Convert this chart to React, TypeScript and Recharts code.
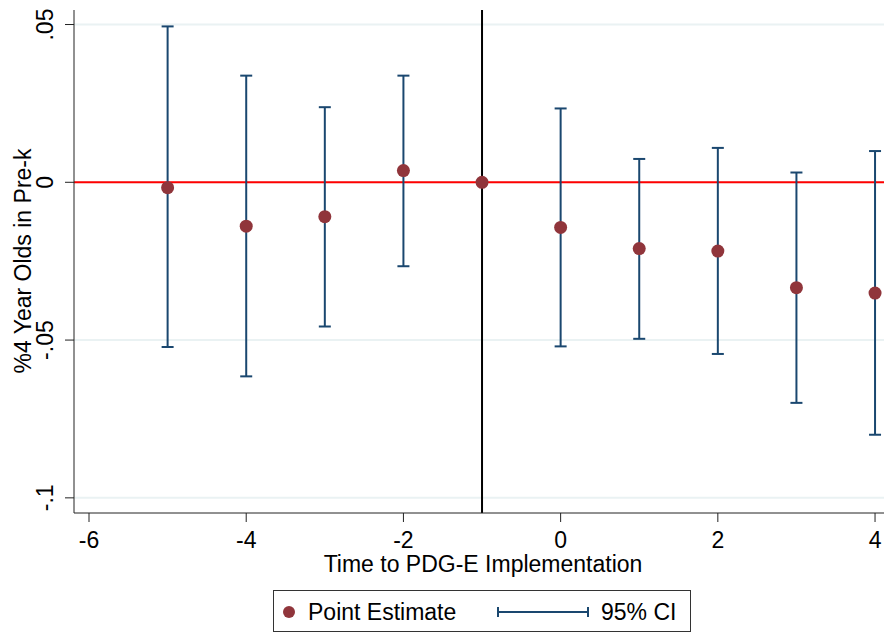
import React from "react";
import { ComposedChart, Scatter, ErrorBar, XAxis, YAxis, CartesianGrid, ReferenceLine } from "recharts";

const periods = [-5, -4, -3, -2, -1, 0, 1, 2, 3, 4];
const estimates = [-0.0017, -0.0139, -0.0109, 0.0037, 0, -0.0143, -0.021, -0.0218, -0.0334, -0.0351];
const ciLow = [-0.0522, -0.0615, -0.0457, -0.0266, null, -0.052, -0.0496, -0.0544, -0.0699, -0.08];
const ciHigh = [0.0494, 0.0338, 0.0238, 0.0338, null, 0.0234, 0.0074, 0.0109, 0.0031, 0.0099];
const xTicks = [-6, -4, -2, 0, 2, 4];
const yTicks = [-0.1, -0.05, 0, 0.05];
const yTickLabels = ["-.1", "-.05", "0", ".05"];

const FONT = "'Liberation Sans', Arial, sans-serif";
const FS = 23;
const NAVY = "#1a476f";
const MAROON = "#90353b";

const points = periods.map((p, i) => ({ t: p, est: estimates[i] }));
// period -1 is the reference period, no CI
const ciPoints = periods
  .map((p, i) => ({
    t: p,
    est: estimates[i],
    err: ciLow[i] == null ? null : [estimates[i] - (ciLow[i] as number), (ciHigh[i] as number) - estimates[i]],
  }))
  .filter(d => d.err != null);

const YTick = (props: any) => {
  const { x, y, payload } = props;
  const idx = yTicks.indexOf(payload.value);
  return (
    <text x={x - 10} y={y} transform={`rotate(-90 ${x - 10} ${y})`} textAnchor="middle" fontFamily={FONT} fontSize={FS} fill="#000">
      {idx >= 0 ? yTickLabels[idx] : payload.value}
    </text>
  );
};

const XTick = (props: any) => {
  const { x, y, payload } = props;
  return (
    <text x={x} y={y + 24} textAnchor="middle" fontFamily={FONT} fontSize={FS} fill="#000">
      {payload.value}
    </text>
  );
};

export default function App() {
  return (
    <div style={{ position: "absolute", left: 0, top: 0, width: 884, height: 633, background: "#fff", fontFamily: FONT }}>
      <ComposedChart width={884} height={633} data={points} margin={{ top: 10, right: 0, bottom: 0, left: 0 }}>
        <CartesianGrid vertical={false} horizontalValues={yTicks} stroke="#eaf2f3" strokeWidth={2} />
        <XAxis
          type="number"
          dataKey="t"
          domain={[-6.191, 4.114]}
          allowDataOverflow
          ticks={xTicks}
          height={120}
          tick={<XTick />}
          tickSize={9}
          stroke="#222"
          label={{
            content: () => (
              <text x={483} y={572} textAnchor="middle" fontFamily={FONT} fontSize={FS} fill="#000">
                Time to PDG-E Implementation
              </text>
            ),
          }}
        />
        <YAxis
          type="number"
          domain={[-0.1048, 0.0546]}
          allowDataOverflow
          ticks={yTicks}
          width={74}
          tick={<YTick />}
          tickSize={9}
          stroke="#222"
          label={{
            content: () => (
              <text x={31} y={261} transform="rotate(-90 31 261)" textAnchor="middle" fontFamily={FONT} fontSize={FS} fill="#000">
                %4 Year Olds in Pre-k
              </text>
            ),
          }}
        />
        <ReferenceLine y={0} stroke="#ff0000" strokeWidth={2} />
        <ReferenceLine x={-1} stroke="#000" strokeWidth={2} />
        <Scatter data={ciPoints} dataKey="est" isAnimationActive={false} shape={() => <g />}>
          <ErrorBar dataKey="err" direction="y" width={6} stroke={NAVY} strokeWidth={2} />
        </Scatter>
        <Scatter
          data={points}
          dataKey="est"
          isAnimationActive={false}
          shape={(p: any) => <circle cx={p.cx} cy={p.cy} r={6.5} fill={MAROON} />}
        />
      </ComposedChart>
      <div
        style={{
          position: "absolute",
          left: 273,
          top: 590,
          width: 418,
          height: 42,
          border: "1px solid #333",
          boxSizing: "border-box",
        }}
      >
        <svg width={418} height={42} style={{ position: "absolute", left: -1, top: -1 }}>
          <circle cx={16} cy={22} r={6} fill={MAROON} />
          <text x={35} y={30} fontFamily={FONT} fontSize={FS} fill="#000">Point Estimate</text>
          <line x1={225} y1={22} x2={315} y2={22} stroke={NAVY} strokeWidth={2} />
          <line x1={225} y1={17} x2={225} y2={27} stroke={NAVY} strokeWidth={2} />
          <line x1={315} y1={17} x2={315} y2={27} stroke={NAVY} strokeWidth={2} />
          <text x={328} y={30} fontFamily={FONT} fontSize={FS} fill="#000">95% CI</text>
        </svg>
      </div>
    </div>
  );
}
